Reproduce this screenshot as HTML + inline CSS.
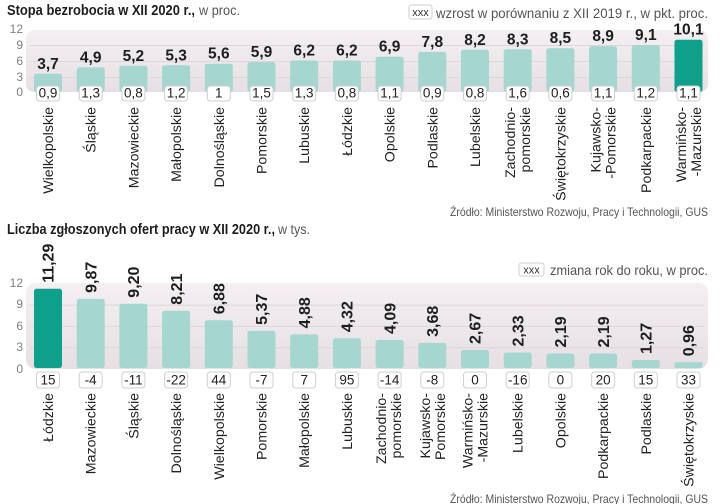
<!DOCTYPE html>
<html><head><meta charset="utf-8"><style>
html,body{margin:0;padding:0;background:#fff;}
svg{display:block;}
text{font-family:"Liberation Sans",sans-serif;}
.t{font-weight:bold;fill:#1e1e1e;font-size:14.5px;}
.tl{fill:#555;font-size:14px;}
.ax{fill:#808080;font-size:12px;text-anchor:end;}
.v1{font-weight:bold;fill:#1e1e1e;font-size:15.5px;text-anchor:middle;}
.v2{font-weight:bold;fill:#1e1e1e;font-size:16px;}
.bx{fill:#fff;stroke:#cfcfcf;stroke-width:1;}
.bt{fill:#222;font-size:13.5px;text-anchor:middle;}
.rl{fill:#222;font-size:14.2px;text-anchor:end;}
.src{fill:#555;font-size:12px;}
.b{fill:#a5d6d0;}
.bh{fill:#0fa08c;}
.g{stroke:#ddd6db;stroke-width:1;}
</style></head><body>
<svg width="720" height="504" viewBox="0 0 720 504" xmlns="http://www.w3.org/2000/svg">
<defs>
<linearGradient id="pg" x1="0" y1="0" x2="0" y2="1">
<stop offset="0" stop-color="#f3eff2"/>
<stop offset="1" stop-color="#e6e0e5"/>
</linearGradient>
</defs>

<!-- ============ CHART 1 ============ -->
<text x="7" y="15" class="t" textLength="188" lengthAdjust="spacingAndGlyphs">Stopa bezrobocia w XII 2020 r.,</text>
<text x="199" y="15" class="tl" textLength="41" lengthAdjust="spacingAndGlyphs">w proc.</text>

<rect x="409" y="5" width="23" height="14" rx="2.5" class="bx"/>
<text x="420.5" y="16" style="font-size:11px;fill:#333;text-anchor:middle">xxx</text>
<text x="436" y="18" class="tl" textLength="272" lengthAdjust="spacingAndGlyphs">wzrost w porównaniu z XII 2019 r., w pkt. proc.</text>

<rect x="26" y="30" width="682" height="62" rx="8" fill="url(#pg)"/>
<line x1="30" x2="704" y1="45.5" y2="45.5" class="g"/>
<line x1="30" x2="704" y1="61.5" y2="61.5" class="g"/>
<line x1="30" x2="704" y1="77.5" y2="77.5" class="g"/>

<text x="23" y="33" class="ax">12</text>
<text x="23" y="49" class="ax">9</text>
<text x="23" y="65" class="ax">6</text>
<text x="23" y="81" class="ax">3</text>
<text x="23" y="96" class="ax">0</text>

<g>
<rect x="34" y="73.8" width="28" height="18.2" rx="2.5" class="b"/>
<rect x="76.7" y="67.4" width="28" height="24.6" rx="2.5" class="b"/>
<rect x="119.4" y="65.8" width="28" height="26.2" rx="2.5" class="b"/>
<rect x="162.1" y="65.3" width="28" height="26.7" rx="2.5" class="b"/>
<rect x="204.8" y="63.7" width="28" height="28.3" rx="2.5" class="b"/>
<rect x="247.5" y="62.1" width="28" height="29.9" rx="2.5" class="b"/>
<rect x="290.2" y="60.5" width="28" height="31.5" rx="2.5" class="b"/>
<rect x="332.9" y="60.5" width="28" height="31.5" rx="2.5" class="b"/>
<rect x="375.6" y="56.7" width="28" height="35.3" rx="2.5" class="b"/>
<rect x="418.3" y="51.9" width="28" height="40.1" rx="2.5" class="b"/>
<rect x="461" y="49.8" width="28" height="42.2" rx="2.5" class="b"/>
<rect x="503.7" y="49.3" width="28" height="42.7" rx="2.5" class="b"/>
<rect x="546.4" y="48.2" width="28" height="43.8" rx="2.5" class="b"/>
<rect x="589.1" y="46.1" width="28" height="45.9" rx="2.5" class="b"/>
<rect x="631.8" y="45" width="28" height="47" rx="2.5" class="b"/>
<rect x="674.5" y="39.7" width="28" height="52.3" rx="2.5" class="bh"/>
</g>

<g>
<text x="48" y="68.8" class="v1">3,7</text>
<text x="90.7" y="62.4" class="v1">4,9</text>
<text x="133.4" y="60.8" class="v1">5,2</text>
<text x="176.1" y="60.3" class="v1">5,3</text>
<text x="218.8" y="58.7" class="v1">5,6</text>
<text x="261.5" y="57.1" class="v1">5,9</text>
<text x="304.2" y="55.5" class="v1">6,2</text>
<text x="346.9" y="55.5" class="v1">6,2</text>
<text x="389.6" y="51.7" class="v1">6,9</text>
<text x="432.3" y="46.9" class="v1">7,8</text>
<text x="475" y="44.8" class="v1">8,2</text>
<text x="517.7" y="44.3" class="v1">8,3</text>
<text x="560.4" y="43.2" class="v1">8,5</text>
<text x="603.1" y="41.1" class="v1">8,9</text>
<text x="645.8" y="40" class="v1">9,1</text>
<text x="688.5" y="34.7" class="v1">10,1</text>
</g>

<g>
<rect x="36.5" y="86" width="23" height="15" rx="3" class="bx"/><text x="48" y="97.5" class="bt">0,9</text>
<rect x="79.2" y="86" width="23" height="15" rx="3" class="bx"/><text x="90.7" y="97.5" class="bt">1,3</text>
<rect x="121.9" y="86" width="23" height="15" rx="3" class="bx"/><text x="133.4" y="97.5" class="bt">0,8</text>
<rect x="164.6" y="86" width="23" height="15" rx="3" class="bx"/><text x="176.1" y="97.5" class="bt">1,2</text>
<rect x="207.3" y="86" width="23" height="15" rx="3" class="bx"/><text x="218.8" y="97.5" class="bt">1</text>
<rect x="250" y="86" width="23" height="15" rx="3" class="bx"/><text x="261.5" y="97.5" class="bt">1,5</text>
<rect x="292.7" y="86" width="23" height="15" rx="3" class="bx"/><text x="304.2" y="97.5" class="bt">1,3</text>
<rect x="335.4" y="86" width="23" height="15" rx="3" class="bx"/><text x="346.9" y="97.5" class="bt">0,8</text>
<rect x="378.1" y="86" width="23" height="15" rx="3" class="bx"/><text x="389.6" y="97.5" class="bt">1,1</text>
<rect x="420.8" y="86" width="23" height="15" rx="3" class="bx"/><text x="432.3" y="97.5" class="bt">0,9</text>
<rect x="463.5" y="86" width="23" height="15" rx="3" class="bx"/><text x="475" y="97.5" class="bt">0,8</text>
<rect x="506.2" y="86" width="23" height="15" rx="3" class="bx"/><text x="517.7" y="97.5" class="bt">1,6</text>
<rect x="548.9" y="86" width="23" height="15" rx="3" class="bx"/><text x="560.4" y="97.5" class="bt">0,6</text>
<rect x="591.6" y="86" width="23" height="15" rx="3" class="bx"/><text x="603.1" y="97.5" class="bt">1,1</text>
<rect x="634.3" y="86" width="23" height="15" rx="3" class="bx"/><text x="645.8" y="97.5" class="bt">1,2</text>
<rect x="677" y="86" width="23" height="15" rx="3" class="bx"/><text x="688.5" y="97.5" class="bt">1,1</text>
</g>

<g>
<text class="rl" transform="translate(53,107) rotate(-90)">Wielkopolskie</text>
<text class="rl" transform="translate(95.7,107) rotate(-90)">Śląskie</text>
<text class="rl" transform="translate(138.4,107) rotate(-90)">Mazowieckie</text>
<text class="rl" transform="translate(181.1,107) rotate(-90)">Małopolskie</text>
<text class="rl" transform="translate(223.8,107) rotate(-90)">Dolnośląskie</text>
<text class="rl" transform="translate(266.5,107) rotate(-90)">Pomorskie</text>
<text class="rl" transform="translate(309.2,107) rotate(-90)">Lubuskie</text>
<text class="rl" transform="translate(351.9,107) rotate(-90)">Łódzkie</text>
<text class="rl" transform="translate(394.6,107) rotate(-90)">Opolskie</text>
<text class="rl" transform="translate(437.3,107) rotate(-90)">Podlaskie</text>
<text class="rl" transform="translate(480,107) rotate(-90)">Lubelskie</text>
<text class="rl" transform="translate(515.2,107) rotate(-90)">Zachodnio-</text>
<text class="rl" transform="translate(530.2,107) rotate(-90)">pomorskie</text>
<text class="rl" transform="translate(565.4,107) rotate(-90)">Świętokrzyskie</text>
<text class="rl" transform="translate(600.6,107) rotate(-90)">Kujawsko-</text>
<text class="rl" transform="translate(615.6,107) rotate(-90)">-Pomorskie</text>
<text class="rl" transform="translate(650.8,107) rotate(-90)">Podkarpackie</text>
<text class="rl" transform="translate(686,107) rotate(-90)">Warmińsko-</text>
<text class="rl" transform="translate(701,107) rotate(-90)">-Mazurskie</text>
</g>

<text x="450" y="216" class="src" textLength="258" lengthAdjust="spacingAndGlyphs">Źródło: Ministerstwo Rozwoju, Pracy i Technologii,  GUS</text>

<!-- ============ CHART 2 ============ -->
<text x="7" y="234" class="t" textLength="268" lengthAdjust="spacingAndGlyphs">Liczba zgłoszonych ofert pracy w XII 2020 r.,</text>
<text x="278" y="234" class="tl" textLength="32" lengthAdjust="spacingAndGlyphs">w tys.</text>

<rect x="519" y="263" width="25" height="13" rx="2.5" class="bx"/>
<text x="531.5" y="273.5" style="font-size:11px;fill:#333;text-anchor:middle">xxx</text>
<text x="550" y="275" class="tl" textLength="158" lengthAdjust="spacingAndGlyphs">zmiana rok do roku, w proc.</text>

<rect x="26" y="283" width="682" height="86" rx="10" fill="url(#pg)"/>
<line x1="30" x2="704" y1="305.1" y2="305.1" class="g"/>
<line x1="30" x2="704" y1="326.4" y2="326.4" class="g"/>
<line x1="30" x2="704" y1="347.7" y2="347.7" class="g"/>

<text x="23" y="287" class="ax">12</text>
<text x="23" y="308" class="ax">9</text>
<text x="23" y="330" class="ax">6</text>
<text x="23" y="351" class="ax">3</text>
<text x="23" y="373" class="ax">0</text>

<g>
<rect x="34" y="288.8" width="28" height="79.2" rx="2.5" class="bh"/>
<rect x="76.7" y="298.9" width="28" height="69.1" rx="2.5" class="b"/>
<rect x="119.4" y="303.7" width="28" height="64.3" rx="2.5" class="b"/>
<rect x="162.1" y="310.7" width="28" height="57.3" rx="2.5" class="b"/>
<rect x="204.8" y="320.2" width="28" height="47.8" rx="2.5" class="b"/>
<rect x="247.5" y="330.9" width="28" height="37.1" rx="2.5" class="b"/>
<rect x="290.2" y="334.4" width="28" height="33.6" rx="2.5" class="b"/>
<rect x="332.9" y="338.3" width="28" height="29.7" rx="2.5" class="b"/>
<rect x="375.6" y="340" width="28" height="28" rx="2.5" class="b"/>
<rect x="418.3" y="342.9" width="28" height="25.1" rx="2.5" class="b"/>
<rect x="461" y="350" width="28" height="18" rx="2.5" class="b"/>
<rect x="503.7" y="352.5" width="28" height="15.5" rx="2.5" class="b"/>
<rect x="546.4" y="353.5" width="28" height="14.5" rx="2.5" class="b"/>
<rect x="589.1" y="353.5" width="28" height="14.5" rx="2.5" class="b"/>
<rect x="631.8" y="360" width="28" height="8" rx="2" class="b"/>
<rect x="674.5" y="362.2" width="28" height="5.8" rx="2" class="b"/>
</g>

<g>
<text class="v2" transform="translate(53.7,282.8) rotate(-90)">11,29</text>
<text class="v2" transform="translate(96.4,292.9) rotate(-90)">9,87</text>
<text class="v2" transform="translate(139.1,297.7) rotate(-90)">9,20</text>
<text class="v2" transform="translate(181.8,304.7) rotate(-90)">8,21</text>
<text class="v2" transform="translate(224.5,314.2) rotate(-90)">6,88</text>
<text class="v2" transform="translate(267.2,324.9) rotate(-90)">5,37</text>
<text class="v2" transform="translate(309.9,328.4) rotate(-90)">4,88</text>
<text class="v2" transform="translate(352.6,332.3) rotate(-90)">4,32</text>
<text class="v2" transform="translate(395.3,334) rotate(-90)">4,09</text>
<text class="v2" transform="translate(438,336.9) rotate(-90)">3,68</text>
<text class="v2" transform="translate(480.7,344) rotate(-90)">2,67</text>
<text class="v2" transform="translate(523.4,346.5) rotate(-90)">2,33</text>
<text class="v2" transform="translate(566.1,347.5) rotate(-90)">2,19</text>
<text class="v2" transform="translate(608.8,347.5) rotate(-90)">2,19</text>
<text class="v2" transform="translate(651.5,354) rotate(-90)">1,27</text>
<text class="v2" transform="translate(694.2,356.2) rotate(-90)">0,96</text>
</g>

<g>
<rect x="36.5" y="372" width="23" height="16" rx="3" class="bx"/><text x="48" y="384.5" class="bt">15</text>
<rect x="79.2" y="372" width="23" height="16" rx="3" class="bx"/><text x="90.7" y="384.5" class="bt">-4</text>
<rect x="121.9" y="372" width="23" height="16" rx="3" class="bx"/><text x="133.4" y="384.5" class="bt">-11</text>
<rect x="164.6" y="372" width="23" height="16" rx="3" class="bx"/><text x="176.1" y="384.5" class="bt">-22</text>
<rect x="207.3" y="372" width="23" height="16" rx="3" class="bx"/><text x="218.8" y="384.5" class="bt">44</text>
<rect x="250" y="372" width="23" height="16" rx="3" class="bx"/><text x="261.5" y="384.5" class="bt">-7</text>
<rect x="292.7" y="372" width="23" height="16" rx="3" class="bx"/><text x="304.2" y="384.5" class="bt">7</text>
<rect x="335.4" y="372" width="23" height="16" rx="3" class="bx"/><text x="346.9" y="384.5" class="bt">95</text>
<rect x="378.1" y="372" width="23" height="16" rx="3" class="bx"/><text x="389.6" y="384.5" class="bt">-14</text>
<rect x="420.8" y="372" width="23" height="16" rx="3" class="bx"/><text x="432.3" y="384.5" class="bt">-8</text>
<rect x="463.5" y="372" width="23" height="16" rx="3" class="bx"/><text x="475" y="384.5" class="bt">0</text>
<rect x="506.2" y="372" width="23" height="16" rx="3" class="bx"/><text x="517.7" y="384.5" class="bt">-16</text>
<rect x="548.9" y="372" width="23" height="16" rx="3" class="bx"/><text x="560.4" y="384.5" class="bt">0</text>
<rect x="591.6" y="372" width="23" height="16" rx="3" class="bx"/><text x="603.1" y="384.5" class="bt">20</text>
<rect x="634.3" y="372" width="23" height="16" rx="3" class="bx"/><text x="645.8" y="384.5" class="bt">15</text>
<rect x="677" y="372" width="23" height="16" rx="3" class="bx"/><text x="688.5" y="384.5" class="bt">33</text>
</g>

<g>
<text class="rl" transform="translate(53,393) rotate(-90)">Łódzkie</text>
<text class="rl" transform="translate(95.7,393) rotate(-90)">Mazowieckie</text>
<text class="rl" transform="translate(138.4,393) rotate(-90)">Śląskie</text>
<text class="rl" transform="translate(181.1,393) rotate(-90)">Dolnośląskie</text>
<text class="rl" transform="translate(223.8,393) rotate(-90)">Wielkopolskie</text>
<text class="rl" transform="translate(266.5,393) rotate(-90)">Pomorskie</text>
<text class="rl" transform="translate(309.2,393) rotate(-90)">Małopolskie</text>
<text class="rl" transform="translate(351.9,393) rotate(-90)">Lubuskie</text>
<text class="rl" transform="translate(386.1,393) rotate(-90)">Zachodnio-</text>
<text class="rl" transform="translate(401.1,393) rotate(-90)">pomorskie</text>
<text class="rl" transform="translate(429.8,393) rotate(-90)">Kujawsko-</text>
<text class="rl" transform="translate(444.8,393) rotate(-90)">Pomorskie</text>
<text class="rl" transform="translate(472.5,393) rotate(-90)">Warmińsko-</text>
<text class="rl" transform="translate(487.5,393) rotate(-90)">-Mazurskie</text>
<text class="rl" transform="translate(522.7,393) rotate(-90)">Lubelskie</text>
<text class="rl" transform="translate(565.4,393) rotate(-90)">Opolskie</text>
<text class="rl" transform="translate(608.1,393) rotate(-90)">Podkarpackie</text>
<text class="rl" transform="translate(650.8,393) rotate(-90)">Podlaskie</text>
<text class="rl" transform="translate(693.5,393) rotate(-90)">Świętokrzyskie</text>
</g>

<text x="450" y="503" class="src" textLength="258" lengthAdjust="spacingAndGlyphs">Źródło: Ministerstwo Rozwoju, Pracy i Technologii,  GUS</text>
</svg>
</body></html>
